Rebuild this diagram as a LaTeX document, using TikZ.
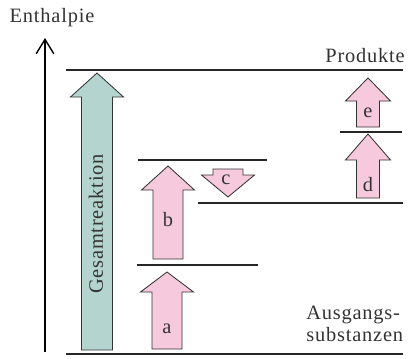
\documentclass[tikz,border=0pt]{standalone}
\usepackage{fontspec}
\setmainfont{Liberation Serif}
\usetikzlibrary{arrows.meta}

\definecolor{rosa}{RGB}{246,202,220}
\definecolor{tuerkis}{RGB}{180,212,208}

% block arrow: x, tail y, head base y, tip y, half shaft, half head
\newcommand{\pfeil}[7][]{%
  \draw[pfeil,#1] (#2-#6,#3) -- (#2-#6,#4) -- (#2-#7,#4) -- (#2,#5)
    -- (#2+#7,#4) -- (#2+#6,#4) -- (#2+#6,#3) -- cycle;}

\begin{document}
\begin{tikzpicture}[x=0.025cm, y=-0.025cm]
  % Define styles
  \tikzstyle{niveau} = [line width=1.1pt, black!85]
  \tikzstyle{pfeil} = [line width=0.6pt, draw=black!80, fill=rosa]
  \tikzstyle{beschrift} = [font=\fontsize{14.5}{15.6}\selectfont\addfontfeature{LetterSpace=4},
                           text=black!80, inner sep=0pt]
  \useasboundingbox (0,0) rectangle (409,358);

  % Enthalpy axis
  \node (achse) [beschrift] at (52,18) {Enthalpie};
  \draw [line width=1pt, -{Straight Barb[length=3.6mm, width=4.4mm]}] (45,352) -- (45,38);

  % Levels
  \draw [niveau] (66,70) -- (403,70);
  \draw [niveau] (340,132) -- (402,132);
  \draw [niveau] (138,160) -- (267,160);
  \draw [niveau] (198,203) -- (403,203);
  \draw [niveau] (137,265) -- (258,265);
  \draw [niveau] (66,354) -- (403,354);

  % Arrows
  \pfeil[fill=tuerkis]{97}{350}{97}{73}{15.5}{26.5}
  \pfeil{167}{349}{292}{272}{15}{26.5}
  \pfeil{168}{259}{190}{166}{15}{26.5}
  \pfeil{228}{169}{175}{197}{15}{26.5}
  \pfeil{368}{198}{160}{134}{11.5}{22.5}
  \pfeil{368}{127}{101}{78}{11.5}{22.5}

  % Labels
  \node (gesamt) [beschrift, rotate=90] at (96,224) {Gesamtreaktion};
  \node (la) [beschrift] at (167,329) {a};
  \node (lb) [beschrift] at (168,220) {b};
  \node (lc) [beschrift] at (226,180) {c};
  \node (ld) [beschrift] at (368,185) {d};
  \node (le) [beschrift] at (368,113) {e};
  \node (prod) [beschrift, anchor=base east] at (405,62) {Produkte};
  \node (ausg) [beschrift, align=left, anchor=west] at (306,324) {Ausgangs-\\substanzen};
\end{tikzpicture}
\end{document}
